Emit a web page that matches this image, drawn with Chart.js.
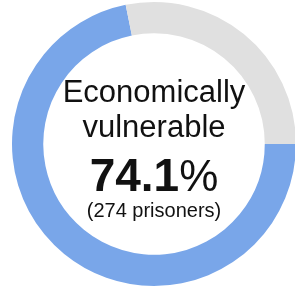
<!DOCTYPE html>
<html lang="en">
<head>
  <meta charset="UTF-8">
  <title>Economically vulnerable</title>
  <script src="https://cdn.jsdelivr.net/npm/chart.js"></script>
  <style>
    html, body { margin: 0; padding: 0; background: #fff; overflow: hidden; width: 295px; height: 287px; }
    #wrap { position: absolute; left: 0; top: 0; width: 308px; height: 288px; }
    .txt { position: absolute; left: 0; width: 308px; text-align: center; color: #111;
           font-family: "Liberation Sans", Arial, sans-serif; white-space: nowrap; }
  </style>
</head>
<body>
  <div id="wrap"><canvas id="donut" width="308" height="288"></canvas></div>
  <div class="txt" style="top:74px;font-size:31px;line-height:36px;">Economically</div>
  <div class="txt" style="top:109px;font-size:31px;line-height:36px;">vulnerable</div>
  <div class="txt" style="top:149px;font-size:46px;line-height:52px;font-weight:bold;">74.1<span style="font-weight:normal;font-size:44px;">%</span></div>
  <div class="txt" style="top:197px;font-size:20px;line-height:26px;">(274 prisoners)</div>
  <script>
    // shares as drawn on the ring (read from the arcs)
    const labels = ['Economically vulnerable', 'Other'];
    const shares = [71.8, 28.2];
    const colors = ['#79a6e9', '#e0e0e0'];

    const ctx = document.getElementById('donut').getContext('2d');
    new Chart(ctx, {
      type: 'doughnut',
      data: {
        labels: labels,
        datasets: [{
          data: shares,
          backgroundColor: colors,
          borderWidth: 0
        }]
      },
      options: {
        responsive: false,
        animation: false,
        rotation: 90,
        cutout: '78%',
        layout: { padding: 2 },
        plugins: {
          legend: { display: false },
          tooltip: { enabled: false }
        }
      }
    });
  </script>
</body>
</html>
